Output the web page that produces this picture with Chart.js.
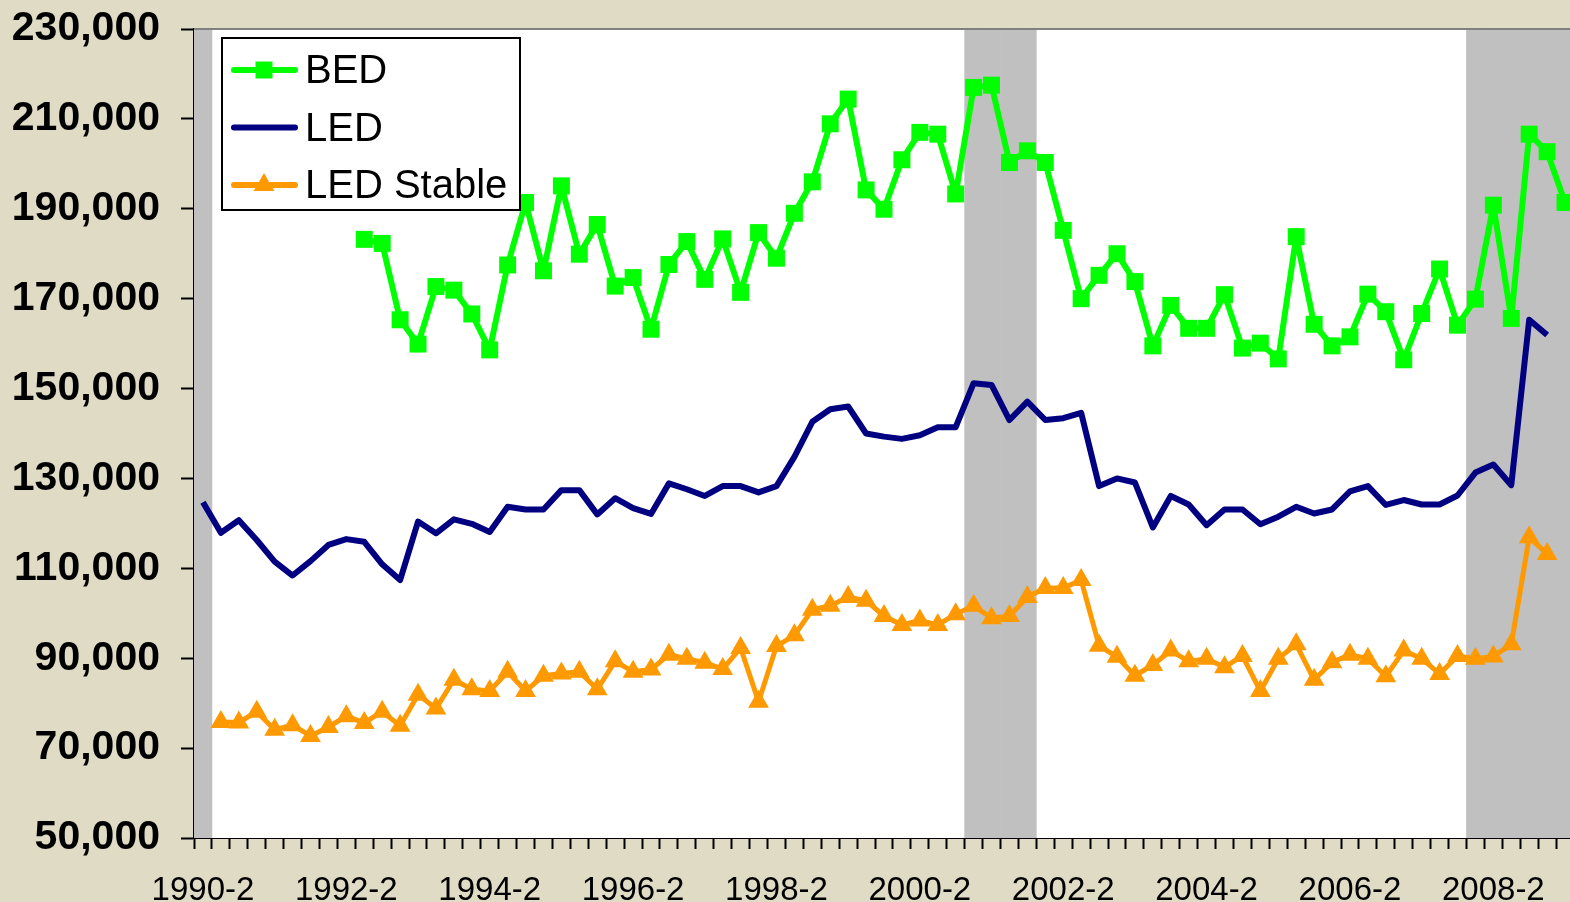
<!DOCTYPE html>
<html>
<head>
<meta charset="utf-8">
<script src="https://cdn.jsdelivr.net/npm/chart.js@4.4.1/dist/chart.umd.min.js"></script>
<style>
  html, body { margin: 0; padding: 0; overflow: hidden; background: #DFDBC5; }
  canvas { display: block; }
</style>
</head>
<body>
<canvas id="chart" width="1574" height="902"></canvas>
<script>
// quarters 1990-2 .. 2009-2
var quarters = [];
for (var y = 1990; y <= 2009; y++) {
  for (var q = 1; q <= 4; q++) {
    if ((y === 1990 && q < 2) || (y === 2009 && q > 2)) continue;
    quarters.push(y + '-' + q);
  }
}

var yTicks = [50000, 70000, 90000, 110000, 130000, 150000, 170000, 190000, 210000, 230000];

// recession quarters (shaded)
var recession = [1,0,0,0,0,0,0,0,0,0, 0,0,0,0,0,0,0,0,0,0, 0,0,0,0,0,0,0,0,0,0,
  0,0,0,0,0,0,0,0,0,0, 0,0,0,1,1,1,1,0,0,0, 0,0,0,0,0,0,0,0,0,0,
  0,0,0,0,0,0,0,0,0,0, 0,1,1,1,1,1,1];

var bed = [null,null,null,null,null,null,null,null,null,
  183200,182300,165300,159900,172700,171900,166600,158600,177500,191400,
  176200,195100,179900,186500,172800,174700,163200,177600,182700,174300,
  183300,171400,184700,179000,189000,196000,208900,214400,194200,189900,
  200900,207000,206600,193300,217000,217500,200300,202900,200300,185200,
  170000,175200,180000,173800,159500,168500,163400,163400,170900,159000,
  160100,156600,183800,164300,159500,161500,171000,167100,156400,166700,
  176600,164100,169900,190800,165600,206600,202700,191400];

var led = [124700,117900,120700,116300,111500,108400,111600,115200,116500,115900,
  110900,107400,120400,117800,120900,119900,118100,123700,123100,123100,
  127400,127400,122000,125600,123400,122100,128900,127600,126100,128300,
  128300,126900,128300,134800,142600,145400,146000,140000,139300,138800,
  139600,141400,141400,151200,150800,143000,147100,143000,143400,144600,
  128300,130000,129100,119100,126100,124200,119600,123100,123100,119800,
  121500,123700,122200,123100,127100,128300,124100,125200,124200,124200,
  126200,131300,133100,128500,165300,161900,null];

var ledStable = [null,75800,75700,78100,74100,75100,72700,74700,77100,75600,
  78100,75000,81900,78800,85200,83100,82700,87000,82700,86100,
  86600,87000,83100,89300,87000,87500,90800,89900,89000,87600,
  92300,80300,92700,95100,100800,101700,103600,102800,99400,97400,
  98400,97400,99800,101700,98900,99400,103600,105600,105600,107400,
  92800,90300,86100,88500,91700,89300,89900,88000,90500,82700,
  89900,93100,85200,89100,90800,89900,86000,91700,89900,86500,
  90500,89900,90400,93100,116900,113200,null];

Chart.defaults.font.family = '"Liberation Sans", Arial, sans-serif';
Chart.defaults.color = '#000';

var lineSets = [
  { label: 'BED', data: bed, borderColor: '#00FF00', backgroundColor: '#00FF00',
    borderWidth: 6, pointStyle: 'rect', pointRadius: 12, pointBorderWidth: 0, order: 1 },
  { label: 'LED', data: led, borderColor: '#000080', backgroundColor: '#000080',
    borderWidth: 6, pointRadius: 0, order: 2 },
  { label: 'LED Stable', data: ledStable, borderColor: '#FF9900', backgroundColor: '#FF9900',
    borderWidth: 5, pointStyle: 'triangle', pointRadius: 12, pointBorderWidth: 0, order: 3 }
];
lineSets.forEach(function (d) {
  d.type = 'line';
  d.tension = 0;
  d.fill = false;
  d.borderJoinStyle = 'round';
  d.pointHoverRadius = d.pointRadius;
});

var plotBg = {
  id: 'plotBg',
  beforeDatasetsDraw: function (chart) {
    var a = chart.chartArea, ctx = chart.ctx;
    ctx.save();
    ctx.fillStyle = '#FFFFFF';
    ctx.fillRect(a.left, a.top, a.right - a.left, a.bottom - a.top);
    ctx.restore();
  },
  afterDraw: function (chart) {
    var a = chart.chartArea, ctx = chart.ctx;
    ctx.save();
    ctx.strokeStyle = '#808080';
    ctx.lineWidth = 2;
    ctx.beginPath();
    ctx.moveTo(a.left, a.top);
    ctx.lineTo(a.right, a.top);
    ctx.stroke();
    ctx.restore();
  }
};

var boxLegend = {
  id: 'boxLegend',
  afterDraw: function (chart) {
    var a = chart.chartArea, ctx = chart.ctx;
    var x = a.left + 28, y = a.top + 9, w = 298, h = 172;
    ctx.save();
    ctx.fillStyle = '#FFFFFF';
    ctx.fillRect(x, y, w, h);
    ctx.strokeStyle = '#000';
    ctx.lineWidth = 2;
    ctx.strokeRect(x, y, w, h);
    ctx.font = '40px "Liberation Sans", Arial, sans-serif';
    ctx.textBaseline = 'middle';
    lineSets.forEach(function (d, i) {
      var cy = y + 32 + i * 57.5;
      ctx.strokeStyle = d.borderColor;
      ctx.lineWidth = 6;
      ctx.lineCap = 'round';
      ctx.beginPath();
      ctx.moveTo(x + 12, cy);
      ctx.lineTo(x + 73, cy);
      ctx.stroke();
      if (d.pointRadius) {
        ctx.fillStyle = d.backgroundColor;
        Chart.helpers.drawPoint(ctx, { pointStyle: d.pointStyle, radius: d.pointRadius, borderWidth: 0, rotation: 0 }, x + 42, cy);
      }
      ctx.fillStyle = '#000';
      ctx.fillText(d.label, x + 83, cy + 2);
    });
    ctx.restore();
  }
};

new Chart(document.getElementById('chart'), {
  data: {
    labels: quarters,
    datasets: lineSets.concat([{
      type: 'bar',
      label: 'recession',
      data: recession.map(function (r) { return r ? 230000 : null; }),
      backgroundColor: '#C0C0C0',
      borderWidth: 0,
      barPercentage: 1,
      categoryPercentage: 1,
      order: 10
    }])
  },
  options: {
    responsive: false,
    animation: false,
    layout: { autoPadding: false, padding: { top: 29, right: 0, left: 0, bottom: 0 } },
    plugins: { legend: { display: false }, tooltip: { enabled: false } },
    scales: {
      x: {
        offset: true,
        grid: { offset: true, drawOnChartArea: false, drawTicks: true, tickLength: 11, tickColor: '#000', tickWidth: 2 },
        border: { color: '#000', width: 2 },
        ticks: {
          autoSkip: false, maxRotation: 0, minRotation: 0, padding: 0,
          font: { size: 33, lineHeight: 2.53 }, color: '#000',
          callback: function (v, i) { return i % 8 === 0 ? quarters[i] : ''; }
        },
        afterFit: function (s) { s.height = 64; }
      },
      y: {
        min: 50000, max: 230000,
        afterBuildTicks: function (s) { s.ticks = yTicks.map(function (v) { return { value: v }; }); },
        grid: { drawOnChartArea: false, drawTicks: true, tickLength: 13, tickColor: '#000', tickWidth: 2 },
        border: { color: '#000', width: 2 },
        ticks: {
          padding: 21, color: '#000', font: { size: 41, weight: 'bold', lineHeight: 0.3 },
          callback: function (v) { return v.toLocaleString('en-US'); }
        },
        afterFit: function (s) { s.width = 194; }
      }
    }
  },
  plugins: [plotBg, boxLegend]
});
</script>
</body>
</html>
